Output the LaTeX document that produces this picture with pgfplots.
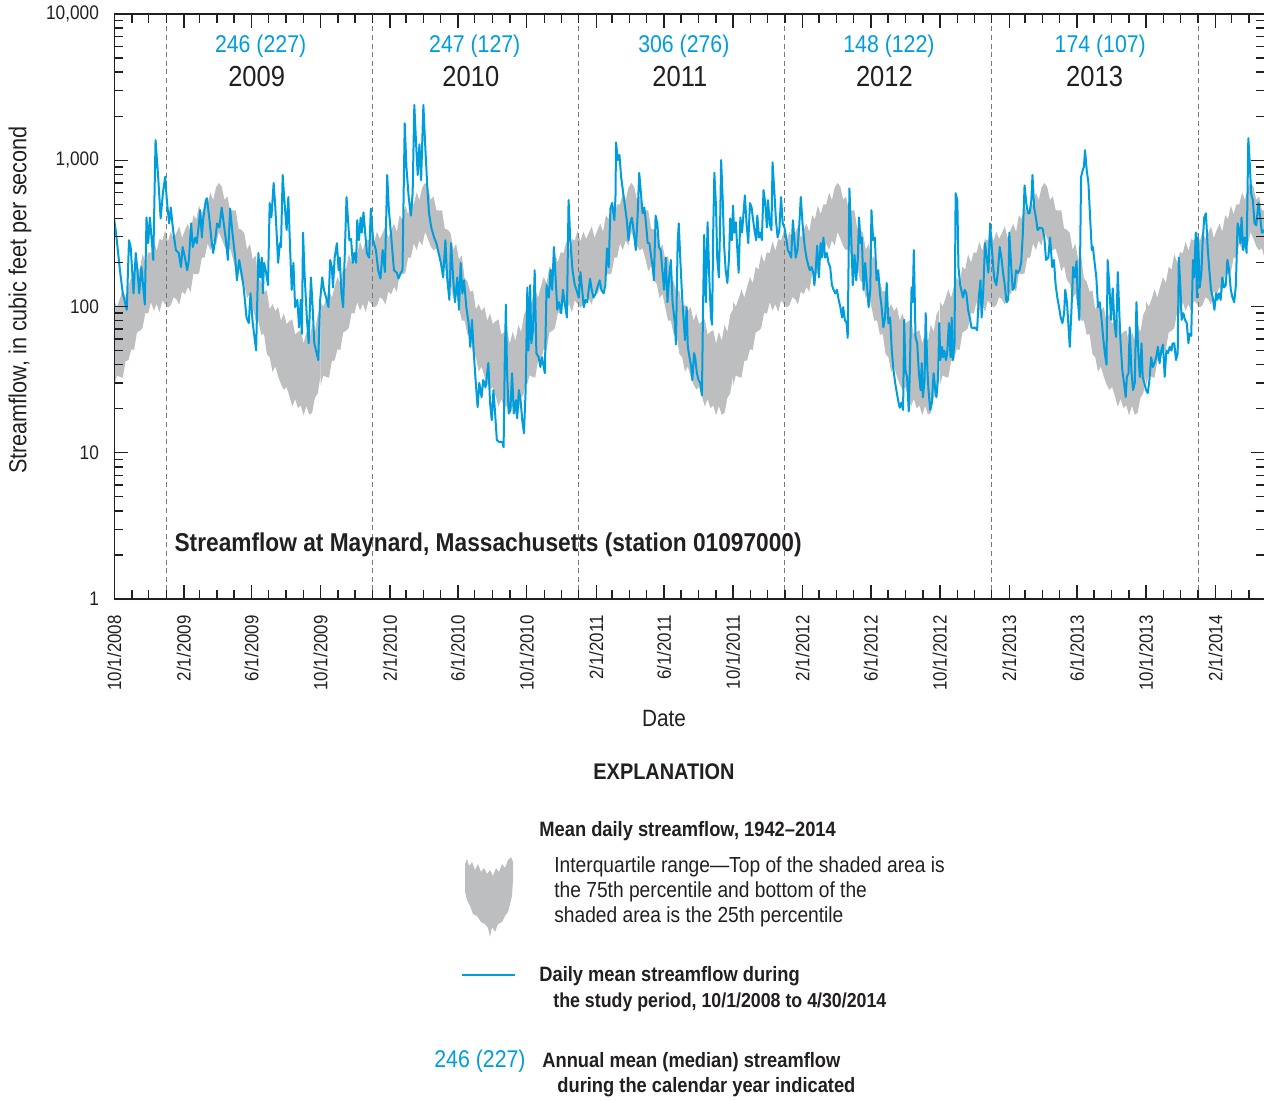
\documentclass[border=0pt]{standalone}
\usepackage{fontspec}
\setmainfont{Liberation Sans}[FakeStretch=0.88]
\usepackage{pgfplots}
\pgfplotsset{compat=1.18}
\usepgfplotslibrary{fillbetween}
\usepackage{pgfplotstable}

\definecolor{usgsblue}{RGB}{0,157,220}
\definecolor{bandgray}{RGB}{189,190,192}
\definecolor{axisblack}{RGB}{35,31,32}
\definecolor{dashgray}{RGB}{120,120,120}

% interquartile range by water-year day (0 = 1 October)
\pgfplotstableread{
w lo hi
0 28.8 108
5 33.8 99.8
10 33 113
15 32.6 131
20 42.4 115
25 42.8 137
30 51 159
35 50.4 144
40 66.3 187
45 68.2 179
50 71.2 228
55 90.6 200
60 89.3 235
65 107 232
70 93.7 278
75 104 241
80 91.4 289
85 110 283
90 104 330
95 98.4 279
100 102 325
105 116 290
110 112 319
115 103 353
120 127 294
125 121 333
130 136 368
135 126 324
140 168 421
145 166 395
150 169 490
155 216 428
160 216 500
165 270 499
170 243 603
175 283 534
180 261 651
185 323 700
190 291 660
195 258 536
200 242 567
205 250 456
210 212 453
215 174 454
220 189 340
225 151 335
230 143 318
235 114 245
240 122 268
245 99 210
250 80 223
255 80 156
260 64 148
265 65 126
270 47.3 129
275 45 95.6
280 35.7 104
285 38.9 93
290 33.3 99.4
295 29.4 80
300 27 89.6
305 28.1 76
310 24.3 79.3
315 20.7 81.8
320 23.3 64.4
325 20.2 67
330 21.1 68.9
335 18 55.8
340 20.9 67.1
345 18.2 58.2
350 18.7 75.2
355 23.7 67
360 25.4 87.7
365 33.5 96
}\band

% daily mean streamflow, days since 10/1/2008
\pgfplotstableread{
d q
0 389
3 320
10 177
15 123
19 107
22 95
26 284
29 255
34 123
38 232
42 158
44 123
48 186
54 103
57 406
60 271
63 406
69 208
73 1372
78 731
82 400
86 595
90 770
93 534
97 370
100 475
104 333
109 243
114 232
118 186
121 255
125 216
129 177
132 208
136 370
139 255
143 296
146 271
149 347
152 456
155 296
157 389
162 534
164 550
168 406
172 284
175 232
179 296
182 370
186 347
190 475
193 389
197 296
201 208
205 467
209 320
214 216
217 151
221 208
225 170
229 135
234 84
238 77
241 123
245 77
248 62
251 50
255 232
258 158
261 216
263 123
265 199
268 177
272 140
275 510
278 406
282 700
285 475
287 333
290 199
293 271
295 255
298 793
301 534
305 333
308 560
311 255
314 130
317 199
320 99
324 111
327 72
330 111
332 65
334 320
337 158
341 81
344 56
348 158
351 99
354 56
357 50
361 43
364 107
368 158
371 130
376 111
379 99
382 208
385 186
387 135
390 216
394 271
397 177
399 216
402 123
405 99
411 560
416 284
419 290
422 199
425 232
428 199
430 389
433 284
436 406
438 320
441 440
444 320
447 232
451 216
454 467
458 284
463 243
467 177
471 155
475 243
479 172
483 793
486 456
491 271
495 177
500 170
503 155
507 170
510 177
514 1790
517 900
521 560
525 418
528 595
531 2390
534 1320
537 793
540 1283
543 731
547 2390
550 1320
554 650
557 434
561 347
566 296
570 271
574 232
578 199
582 158
586 284
589 158
593 111
596 271
600 151
603 107
607 158
610 95
613 199
616 123
619 151
623 99
627 77
630 53
633 81
636 50
639 33
643 20.5
646 30
650 24
653 31.4
657 28
662 41
665 22
668 16.7
671 26.8
674 18.6
677 12.2
682 11.8
687 11.8
689 10.9
691 41
693 103
695 36.8
698 18.6
701 19.6
704 35
707 18.6
711 22.9
713 17.2
716 26.8
719 22.9
722 16.7
725 13.6
728 26.8
731 135
733 50
736 140
738 56
741 69
744 177
747 48
751 45
754 38.6
757 45
760 38.6
762 35
765 140
769 115
772 177
775 130
778 255
781 158
784 95
787 107
791 90
794 130
797 107
801 84
804 534
807 284
811 177
815 140
818 130
822 115
825 172
828 130
831 99
834 111
837 107
842 155
845 130
848 115
852 123
855 135
859 151
862 130
866 123
869 140
872 250
875 186
878 467
881 510
885 389
887 560
888 1325
891 1002
894 1090
897 770
900 625
903 510
907 389
910 284
913 370
916 406
919 333
923 243
926 406
929 820
932 595
935 434
938 475
941 370
944 271
947 271
951 208
953 186
955 151
958 418
961 370
964 255
967 243
970 177
973 130
976 216
979 107
982 158
985 208
988 107
992 77
994 55
997 271
999 370
1002 199
1005 115
1008 77
1010 59
1013 99
1015 53
1018 45
1021 38.6
1023 31.4
1026 48
1028 45
1031 35
1034 31.4
1037 30
1040 24.7
1042 99
1044 309
1047 107
1050 377
1053 158
1056 84
1058 75
1060 333
1062 820
1065 475
1067 216
1070 158
1072 333
1074 1002
1077 510
1079 271
1082 177
1085 145
1088 216
1090 400
1093 284
1095 490
1097 320
1100 377
1102 271
1105 170
1108 406
1111 320
1114 456
1116 575
1119 370
1122 271
1125 510
1128 475
1130 406
1133 333
1136 284
1138 418
1141 296
1144 320
1146 284
1149 625
1152 510
1155 347
1157 534
1160 370
1163 333
1165 968
1168 625
1171 389
1174 296
1177 333
1180 560
1183 370
1186 347
1189 296
1192 243
1195 232
1198 216
1201 389
1204 271
1206 216
1209 243
1212 347
1215 560
1218 370
1222 255
1225 216
1229 186
1231 177
1234 186
1237 170
1239 140
1241 170
1244 260
1247 158
1250 271
1252 216
1255 296
1258 216
1261 232
1264 199
1267 186
1270 140
1273 130
1276 123
1279 130
1282 111
1285 99
1288 84
1290 99
1293 81
1296 77
1298 61
1301 640
1304 320
1307 140
1310 225
1313 151
1316 216
1318 406
1321 271
1323 296
1326 130
1329 199
1332 140
1335 99
1338 130
1340 456
1343 284
1346 296
1349 151
1352 177
1355 123
1358 99
1361 72
1364 84
1367 145
1370 77
1373 84
1376 50
1379 36.8
1382 30
1385 25.6
1388 22
1390 20.3
1393 22
1396 19.6
1398 81
1400 36.8
1403 33
1406 19.2
1408 36.8
1411 135
1413 107
1415 243
1418 62
1421 56
1424 35
1427 26.8
1429 41
1431 24
1434 31.4
1436 90
1439 36.8
1441 26.8
1444 19.6
1447 22
1450 35
1453 26.8
1455 24
1458 33
1460 77
1462 43
1465 53
1467 45
1469 50
1472 43
1474 48
1477 77
1480 45
1482 84
1484 43
1487 56
1489 595
1492 534
1494 186
1497 140
1499 130
1502 115
1505 130
1508 123
1511 95
1514 84
1517 72
1520 71
1523 72
1527 69
1530 115
1533 151
1535 84
1538 130
1541 271
1544 216
1547 170
1550 370
1553 255
1556 177
1558 151
1561 140
1564 177
1567 255
1570 216
1573 170
1576 140
1579 107
1582 111
1584 320
1587 199
1590 130
1593 135
1596 177
1599 170
1602 177
1605 199
1608 320
1611 673
1614 510
1617 434
1620 434
1623 534
1625 793
1628 475
1631 406
1634 333
1638 347
1643 340
1646 296
1649 208
1653 216
1656 296
1660 186
1663 208
1666 140
1669 115
1672 99
1675 84
1678 77
1681 90
1683 130
1686 107
1688 81
1691 53
1694 95
1697 186
1700 158
1703 204
1705 115
1708 81
1711 770
1714 856
1716 900
1718 1173
1721 856
1724 700
1727 406
1730 243
1732 255
1735 199
1738 158
1741 99
1744 107
1747 84
1750 62
1753 48
1756 40
1758 208
1761 140
1764 81
1767 133
1770 77
1773 62
1776 172
1779 84
1781 56
1784 36.8
1787 30
1790 24
1792 33
1795 35
1797 72
1800 36.8
1803 26.8
1806 30
1809 107
1812 50
1815 33
1818 56
1820 33
1823 30
1826 26.8
1829 25.6
1832 31.4
1835 45
1838 38.6
1841 41
1844 45
1847 53
1850 41
1853 50
1856 55
1859 33
1862 50
1865 48
1868 53
1871 50
1873 56
1876 56
1879 43
1882 48
1884 216
1887 130
1889 81
1892 90
1895 81
1898 77
1901 56
1903 65
1906 63
1909 208
1911 158
1914 320
1916 115
1918 296
1921 135
1924 170
1926 271
1929 406
1932 434
1935 255
1938 177
1941 130
1944 115
1947 95
1950 123
1952 111
1955 123
1958 111
1961 158
1964 135
1967 140
1970 208
1973 177
1976 130
1979 115
1982 107
1985 140
1988 370
1991 333
1993 271
1995 406
1998 243
2001 296
2004 232
2007 1415
2009 1050
2012 595
2015 534
2018 370
2021 359
2025 510
2028 406
2031 320
2035 333
2037 300
}\flow

\begin{document}
\begin{tikzpicture}
\begin{axis}[
  at={(57.15pt,-299.5pt)}, anchor=south west,
  scale only axis, width=575.48pt, height=292.5pt,
  ymode=log, ymin=1, ymax=10000,
  xmin=0, xmax=2037,
  axis on top,
  axis line style={axisblack, line width=0.75pt},
  every tick/.style={axisblack, line width=0.7pt},
  tick align=inside,
  major tick length=7pt, minor tick length=4.5pt,
  xtick={0,123,243,365,488,608,730,853,973,1095,1218,1339,1461,1584,1704,1826,1949},
  xticklabels={10/1/2008,2/1/2009,6/1/2009,10/1/2009,2/1/2010,6/1/2010,10/1/2010,2/1/2011,6/1/2011,10/1/2011,2/1/2012,6/1/2012,10/1/2012,2/1/2013,6/1/2013,10/1/2013,2/1/2014},
  minor xtick={31,61,92,151,182,212,273,304,335,396,426,457,516,547,577,638,669,700,761,791,822,881,912,942,1003,1034,1065,1126,1156,1187,1247,1278,1308,1369,1400,1431,1492,1522,1553,1612,1643,1673,1734,1765,1796,1857,1887,1918,1977,2008},
  ytick={1,10,100,1000,10000},
  yticklabels={1,10,100,{1,000},{10,000}},
  minor ytick={2,3,4,5,6,7,8,9,20,30,40,50,60,70,80,90,200,300,400,500,600,700,800,900,2000,3000,4000,5000,6000,7000,8000,9000},
  xticklabel style={font=\fontsize{9.6}{10}\selectfont, text=axisblack, inner sep=0pt, yshift=-8pt, rotate=90, anchor=east},
  yticklabel style={font=\fontsize{9.8}{10}\selectfont, text=axisblack, inner sep=0pt, xshift=-7.5pt, anchor=east},
]
\pgfplotsinvokeforeach{0,365,730,1095,1461,1826}{
  \addplot[draw=none, name path=hi#1, forget plot] table[x expr=\thisrow{w}+#1, y=hi]{\band};
  \addplot[draw=none, name path=lo#1, forget plot] table[x expr=\thisrow{w}+#1, y=lo]{\band};
  \addplot[fill=bandgray, draw=none, forget plot] fill between[of=hi#1 and lo#1];
}
\pgfplotsinvokeforeach{92,457,822,1187,1553,1918}{
  \draw[dashgray, line width=0.5pt, dash pattern=on 2.5pt off 1.8pt] (axis cs:#1,1) -- (axis cs:#1,10000);
}
\addplot[usgsblue, line width=1pt, line join=round, mark=none] table[x=d, y=q]{\flow};

\node[usgsblue, font=\fontsize{12.1}{13}\selectfont] at (axis cs:259,6025) {246 (227)};
\node[axisblack, font=\fontsize{14.5}{15}\selectfont] at (axis cs:252,3756) {2009};
\node[usgsblue, font=\fontsize{12.1}{13}\selectfont] at (axis cs:638,6025) {247 (127)};
\node[axisblack, font=\fontsize{14.5}{15}\selectfont] at (axis cs:631,3756) {2010};
\node[usgsblue, font=\fontsize{12.1}{13}\selectfont] at (axis cs:1008,6025) {306 (276)};
\node[axisblack, font=\fontsize{14.5}{15}\selectfont] at (axis cs:1001,3756) {2011};
\node[usgsblue, font=\fontsize{12.1}{13}\selectfont] at (axis cs:1371,6025) {148 (122)};
\node[axisblack, font=\fontsize{14.5}{15}\selectfont] at (axis cs:1363,3756) {2012};
\node[usgsblue, font=\fontsize{12.1}{13}\selectfont] at (axis cs:1745,6025) {174 (107)};
\node[axisblack, font=\fontsize{14.5}{15}\selectfont] at (axis cs:1735,3756) {2013};
\node[anchor=west, inner sep=0pt, axisblack, font=\bfseries\fontsize{12.9}{14}\selectfont] at (axis cs:106,2.34) {Streamflow at Maynard, Massachusetts (station 01097000)};
\end{axis}

% axis titles
\node[rotate=90, axisblack, font=\fontsize{12.3}{14}\selectfont] at (10pt,-150pt) {Streamflow, in cubic feet per second};
\node[axisblack, font=\fontsize{11.8}{14}\selectfont] at (332pt,-359pt) {Date};

% explanation
\node[axisblack, font=\bfseries\fontsize{11.3}{13}\selectfont] at (332pt,-386pt) {EXPLANATION};
\node[anchor=west, inner sep=0pt, axisblack, font=\bfseries\fontsize{10.4}{12}\selectfont] at (269.5pt,-415.5pt) {Mean daily streamflow, 1942–2014};
\node[anchor=west, inner sep=0pt, axisblack, font=\fontsize{10.9}{12}\selectfont] at (277pt,-433.5pt) {Interquartile range—Top of the shaded area is};
\node[anchor=west, inner sep=0pt, axisblack, font=\fontsize{10.9}{12}\selectfont] at (277pt,-446pt) {the 75th percentile and bottom of the};
\node[anchor=west, inner sep=0pt, axisblack, font=\fontsize{10.9}{12}\selectfont] at (277pt,-458.5pt) {shaded area is the 25th percentile};
\fill[bandgray] (232.5pt,-432pt) -- (233.5pt,-429.5pt) -- (234.5pt,-433pt) -- (236pt,-431pt) -- (237.5pt,-435pt) -- (239pt,-432pt) -- (240.5pt,-436pt) -- (242pt,-434pt) -- (243.5pt,-437pt) -- (245pt,-435pt) -- (246.5pt,-438pt) -- (248pt,-434pt) -- (249.5pt,-436pt) -- (251pt,-432pt) -- (252.5pt,-434pt) -- (254pt,-430pt) -- (255.5pt,-428.5pt) -- (256.5pt,-431pt) -- (256.5pt,-440pt) -- (256pt,-448pt) -- (255pt,-452pt) -- (254pt,-456pt) -- (252.5pt,-458pt) -- (251pt,-461pt) -- (249pt,-462pt) -- (247.5pt,-466pt) -- (246pt,-463.5pt) -- (245pt,-468.5pt) -- (244pt,-464pt) -- (242.5pt,-462pt) -- (240.5pt,-461pt) -- (238.5pt,-458pt) -- (236.5pt,-457pt) -- (235pt,-453pt) -- (233.5pt,-450pt) -- (232.5pt,-446pt) -- cycle;

\draw[usgsblue, line width=1pt] (231pt,-487.5pt) -- (257.5pt,-487.5pt);
\node[anchor=west, inner sep=0pt, axisblack, font=\bfseries\fontsize{10.4}{12}\selectfont] at (269.5pt,-488pt) {Daily mean streamflow during};
\node[anchor=west, inner sep=0pt, axisblack, font=\bfseries\fontsize{10.1}{12}\selectfont] at (276.5pt,-501pt) {the study period, 10/1/2008 to 4/30/2014};

\node[anchor=west, inner sep=0pt, usgsblue, font=\fontsize{12.1}{13}\selectfont] at (217pt,-530.5pt) {246 (227)};
\node[anchor=west, inner sep=0pt, axisblack, font=\bfseries\fontsize{10.4}{12}\selectfont] at (271pt,-531pt) {Annual mean (median) streamflow};
\node[anchor=west, inner sep=0pt, axisblack, font=\bfseries\fontsize{10.4}{12}\selectfont] at (278.5pt,-543.5pt) {during the calendar year indicated};
\pgfresetboundingbox
\useasboundingbox (0,0) rectangle (632pt,-550.5pt);
\end{tikzpicture}
\end{document}
